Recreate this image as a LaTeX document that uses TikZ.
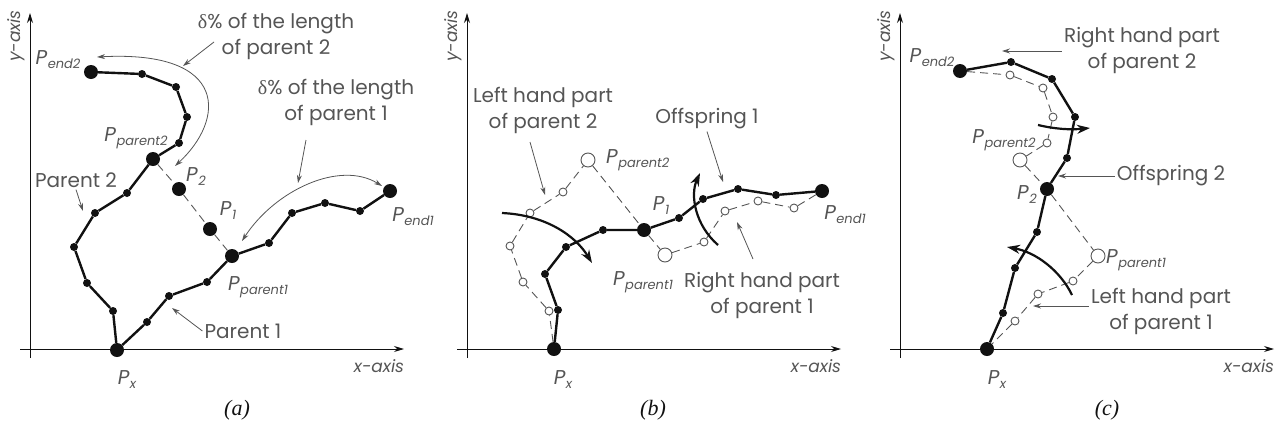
\documentclass[tikz,border=0pt]{standalone}
\usepackage{fontspec}
\setmainfont{Poppins}
\newfontfamily\capfont{Liberation Serif}
\newfontfamily\greekfont{Liberation Serif}
\usepackage{tikz}
\usetikzlibrary{arrows.meta,positioning}
\definecolor{ink}{HTML}{111111}
\definecolor{inksoft}{HTML}{555555}
\newcommand{\Pn}[1]{\textit{P}\kern0.5pt\raisebox{-0.2em}{\fontsize{13}{13}\selectfont\itshape #1}}
\newcommand{\dlt}{{\greekfont δ}}

\begin{document}
\begin{tikzpicture}[x=1pt,y=-1pt,
  axis/.style={-{Stealth[length=10pt,width=6pt]},line width=0.9pt,color=ink},
  chrom/.style={line width=2.4pt,line join=round,color=ink},
  gap/.style={line width=0.9pt,dash pattern=on 8pt off 5pt,color=inksoft},
  dot/.style={circle,fill=ink,inner sep=0pt,minimum size=8pt},
  bigdot/.style={circle,fill=ink,inner sep=0pt,minimum size=14pt},
  ring/.style={circle,draw=inksoft,line width=0.9pt,inner sep=0pt,minimum size=8pt},
  bigring/.style={ring,minimum size=14pt},
  note/.style={-{Stealth[length=8pt,width=5pt]},line width=0.8pt,color=inksoft},
  twoway/.style={{Stealth[length=8pt,width=5pt]}-{Stealth[length=8pt,width=5pt]},line width=0.8pt,color=inksoft},
  swing/.style={-{Stealth[length=13pt,width=9pt]},line width=2.2pt,color=ink},
  lab/.style={font=\fontsize{20}{26}\selectfont,text=inksoft,align=center,inner sep=2pt},
  plab/.style={font=\fontsize{20}{22}\selectfont,text=inksoft,inner sep=1pt},
  axlab/.style={font=\fontsize{17}{18}\selectfont\itshape,text=inksoft,inner sep=0pt},
  caption/.style={font=\fontsize{22}{24}\selectfont\capfont\itshape,text=ink},
]
\useasboundingbox (0,0) rectangle (1282,429);

% axes of the three panels
\foreach \ox in {0,437,870}{
  \draw[axis] (\ox+30,358) -- (\ox+30,13);
  \draw[axis] (\ox+20,349) -- (\ox+404,349);
  \node[axlab,rotate=90] (ylab\ox) at (\ox+16,36) {y-axis};
  \node[axlab] (xlab\ox) at (\ox+379,366) {x-axis};
}
\node[caption] (capa) at (237,410) {(a)};
\node[caption] (capb) at (653,410) {(b)};
\node[caption] (capc) at (1107,410) {(c)};

% (a) two parents
\foreach \n/\x/\y in {r1/147/322,r2/169/296,r3/207/282,r4/269/243,r5/292/213,r6/325/203,r7/360/211,
  l1/113/311,l2/87/283,l3/74/247,l4/95/213,l5/127/193,l6/179/143,l7/187/117,l8/176/87,l9/142/74}
  \node[dot] (a-\n) at (\x,\y) {};
\foreach \n/\x/\y in {px/117/350,pp1/232/256,pe1/390/191,pp2/153/159,pe2/91/72,p2/179/189,p1/210/229}
  \node[bigdot] (a-\n) at (\x,\y) {};
\draw[gap] (a-pp2) -- (a-p2) -- (a-p1) -- (a-pp1);
\draw[chrom] (a-px) -- (a-r1) -- (a-r2) -- (a-r3) -- (a-pp1) -- (a-r4) -- (a-r5) -- (a-r6) -- (a-r7) -- (a-pe1);
\draw[chrom] (a-px) -- (a-l1) -- (a-l2) -- (a-l3) -- (a-l4) -- (a-l5) -- (a-pp2) -- (a-l6) -- (a-l7) -- (a-l8) -- (a-l9) -- (a-pe2);

\node[plab] (a-pe2lab) at (58,60) {\Pn{end2}};
\node[plab] (a-pp2lab) at (136,138) {\Pn{parent2}};
\node[plab] (a-p2lab) at (196,177) {\Pn{2}};
\node[plab] (a-p1lab) at (228,211) {\Pn{1}};
\node[plab] (a-pp1lab) at (258,287) {\Pn{parent1}};
\node[plab] (a-pe1lab) at (413,217) {\Pn{end1}};
\node[plab] (a-pxlab) at (127,380) {\Pn{x}};
\node[lab] (a-par2lab) at (76,180) {Parent 2};
\node[lab] (a-par1lab) at (243,331) {Parent 1};
\node[lab] (a-d2lab) at (276,36) {\dlt\% of the length\\of parent 2};
\node[lab] (a-d1lab) at (336,102) {\dlt\% of the length\\of parent 1};

\coordinate (a-par2tip) at (83,211);
\coordinate (a-par1tip) at (172,308);
\coordinate (a-d2from) at (214,42);
\coordinate (a-d2to) at (183,66);
\coordinate (a-d1from) at (306,140);
\coordinate (a-d1to) at (298,183);
\draw[note] (a-par2lab.south) -- (a-par2tip);
\draw[note] (a-par1lab.west) -- (a-par1tip);
\draw[note] (a-d2from) -- (a-d2to);
\draw[note] (a-d1from) -- (a-d1to);
\coordinate (a-arc2s) at (97,57);
\coordinate (a-arc2e) at (175,166);
\coordinate (a-arc1s) at (242,241);
\coordinate (a-arc1e) at (382,186);
\draw[twoway] (a-arc2s) .. controls (230,50) and (225,120) .. (a-arc2e);
\draw[twoway] (a-arc1s) .. controls (275,190) and (340,160) .. (a-arc1e);

% (b) offspring 1
\foreach \n/\x/\y in {l1/549/311,l2/523/282,l3/510/246,l4/530/213,l5/563/192,
  r1/704/242,r2/725/211,r3/758/201,r4/794/208}
  \node[ring] (b-\n) at (\x,\y) {};
\node[bigring] (b-pp2) at (588,160) {};
\node[bigring] (b-pp1) at (665,255) {};
\foreach \n/\x/\y in {o1/558/310,o2/545/274,o3/566/247,o4/603/230,o5/679/218,o6/703/199,o7/738/189,o8/776/195}
  \node[dot] (b-\n) at (\x,\y) {};
\foreach \n/\x/\y in {px/554/349,p1/644/230,pe1/822/191}
  \node[bigdot] (b-\n) at (\x,\y) {};
\draw[gap] (b-px) -- (b-l1) -- (b-l2) -- (b-l3) -- (b-l4) -- (b-l5) -- (b-pp2) -- (b-p1);
\draw[gap] (b-p1) -- (b-pp1) -- (b-r1) -- (b-r2) -- (b-r3) -- (b-r4) -- (b-pe1);
\draw[chrom] (b-px) -- (b-o1) -- (b-o2) -- (b-o3) -- (b-o4) -- (b-p1) -- (b-o5) -- (b-o6) -- (b-o7) -- (b-o8) -- (b-pe1);

\coordinate (b-sw1s) at (502,213);
\coordinate (b-sw1e) at (592,263);
\coordinate (b-sw2s) at (718,245);
\coordinate (b-sw2e) at (700,173);
\draw[swing] (b-sw1s) .. controls (545,215) and (575,235) .. (b-sw1e);
\draw[swing] (b-sw2s) .. controls (695,225) and (690,195) .. (b-sw2e);

\node[lab] (b-lhlab) at (543,110) {Left hand part\\of parent 2};
\node[plab,anchor=west] (b-pp2lab) at (605,160) {\Pn{parent2}};
\node[lab] (b-offlab) at (707,119) {Offspring 1};
\node[plab] (b-p1lab) at (661,206) {\Pn{1}};
\node[plab] (b-pe1lab) at (845,215) {\Pn{end1}};
\node[plab] (b-pp1lab) at (643,282) {\Pn{parent1}};
\node[lab] (b-rhlab) at (762,295) {Right hand part\\of parent 1};
\node[plab] (b-pxlab) at (563,380) {\Pn{x}};
\coordinate (b-lhfrom) at (530,142);
\coordinate (b-lhtip) at (545,195);
\coordinate (b-offtip) at (723,182);
\coordinate (b-rhfrom) at (753,259);
\coordinate (b-rhtip) at (737,222);
\draw[note] (b-lhfrom) -- (b-lhtip);
\draw[note] (b-offlab.south) -- (b-offtip);
\draw[note] (b-rhfrom) -- (b-rhtip);

% (c) offspring 2
\foreach \n/\x/\y in {r1/1010/75,r2/1043/88,r3/1053/117,r4/1047/143,l1/1073/281,l2/1038/294,l3/1015/321}
  \node[ring] (c-\n) at (\x,\y) {};
\node[bigring] (c-pp2) at (1020,160) {};
\node[bigring] (c-pp1) at (1098,256) {};
\foreach \n/\x/\y in {o1/1003/313,o2/1015/268,o3/1037/232,o4/1067/158,o5/1075/117,o6/1052/79,o7/1011/62}
  \node[dot] (c-\n) at (\x,\y) {};
\foreach \n/\x/\y in {px/987/349,p2/1047/189,pe2/960/71}
  \node[bigdot] (c-\n) at (\x,\y) {};
\draw[gap] (c-pe2) -- (c-r1) -- (c-r2) -- (c-r3) -- (c-r4) -- (c-pp2) -- (c-p2) -- (c-pp1);
\draw[gap] (c-pp1) -- (c-l1) -- (c-l2) -- (c-l3) -- (c-px);
\draw[chrom] (c-px) -- (c-o1) -- (c-o2) -- (c-o3) -- (c-p2) -- (c-o4) -- (c-o5) -- (c-o6) -- (c-o7) -- (c-pe2);

\coordinate (c-sw1s) at (1038,125);
\coordinate (c-sw1e) at (1090,128);
\coordinate (c-sw2s) at (1072,295);
\coordinate (c-sw2e) at (1007,247);
\draw[swing] (c-sw1s) .. controls (1055,129) and (1070,130) .. (c-sw1e);
\draw[swing] (c-sw2s) .. controls (1060,270) and (1035,252) .. (c-sw2e);

\node[plab] (c-pe2lab) at (932,58) {\Pn{end2}};
\node[lab] (c-rhlab) at (1142,50) {Right hand part\\of parent 2};
\node[plab] (c-pp2lab) at (1004,140) {\Pn{parent2}};
\node[plab] (c-p2lab) at (1027,195) {\Pn{2}};
\node[lab] (c-offlab) at (1171,176) {Offspring 2};
\node[plab,anchor=west] (c-pp1lab) at (1105,260) {\Pn{parent1}};
\node[lab] (c-lhlab) at (1161,311) {Left hand part\\of parent 1};
\node[plab] (c-pxlab) at (997,380) {\Pn{x}};
\coordinate (c-rhtip) at (1002,51);
\coordinate (c-offtip) at (1058,176);
\coordinate (c-lhtip) at (1033,306);
\draw[note] (c-rhlab.west |- c-rhtip) -- (c-rhtip);
\draw[note] (c-offlab.west |- c-offtip) -- (c-offtip);
\draw[note] (c-lhlab.west |- c-lhtip) -- (c-lhtip);
\end{tikzpicture}
\end{document}
